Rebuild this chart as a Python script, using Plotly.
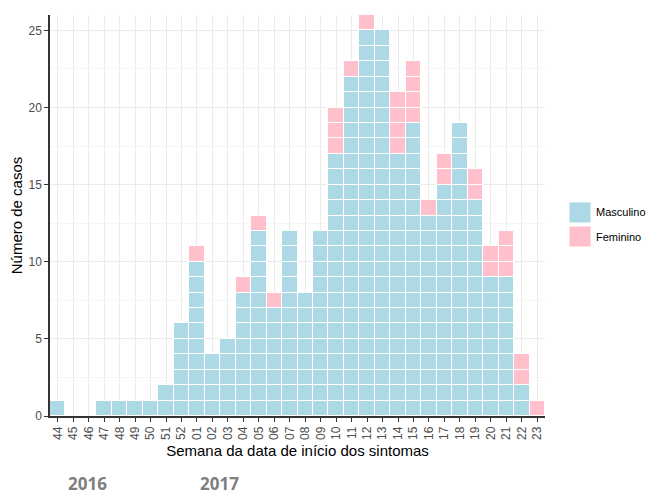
import plotly.graph_objects as go

weeks = ["44", "45", "46", "47", "48", "49", "50", "51", "52",
         "01", "02", "03", "04", "05", "06", "07", "08", "09", "10", "11",
         "12", "13", "14", "15", "16", "17", "18", "19", "20", "21", "22", "23"]
masculino = [1, 0, 0, 1, 1, 1, 1, 2, 6,
             10, 4, 5, 8, 12, 7, 12, 8, 12, 17, 22,
             25, 25, 17, 19, 13, 15, 19, 14, 9, 9, 2, 0]
feminino = [0, 0, 0, 0, 0, 0, 0, 0, 0,
            1, 0, 0, 1, 1, 1, 0, 0, 0, 3, 1,
            1, 0, 4, 4, 1, 2, 0, 2, 2, 3, 2, 1]
years = ["2016", "2017"]
year_pos = [1.94, 10.47]

series = [("Masculino", masculino, "#ADD8E6"), ("Feminino", feminino, "#FFC0CB")]

fig = go.Figure()
for name, counts, color in series:
    xs, ys = [], []
    for i, c in enumerate(counts):
        for _ in range(c):
            xs.append(i)
            ys.append(1)
    fig.add_trace(go.Bar(x=xs, y=ys, name=name, marker=dict(color=color, line=dict(color="white", width=1)),
                         showlegend=False))

fig.update_layout(
    barmode="stack", bargap=0,
    width=646, height=495,
    margin=dict(l=50, r=101, t=15, b=79),
    plot_bgcolor="white", paper_bgcolor="white",
    font=dict(family="Liberation Sans, Arial, sans-serif", size=12, color="#4D4D4D"),
)
fig.update_xaxes(
    range=[-0.5, len(weeks) - 0.5],
    tickmode="array", tickvals=list(range(len(weeks))), ticktext=weeks,
    tickangle=-90, ticks="outside", ticklen=4, tickcolor="#333333",
    showgrid=True, gridcolor="#EBEBEB", gridwidth=1,
    showline=True, linecolor="#333333", linewidth=1.5,
    zeroline=False,
    title=dict(text="Semana da data de início dos sintomas", font=dict(size=15, color="black"), standoff=7),
    tickfont=dict(size=12, color="#4D4D4D"),
)
fig.update_yaxes(
    range=[0, 26], dtick=5, tick0=0,
    ticks="outside", ticklen=4, tickcolor="#333333",
    showgrid=True, gridcolor="#EBEBEB", gridwidth=1,
    minor=dict(dtick=2.5, tick0=0, showgrid=True, gridcolor="#F5F5F5", gridwidth=1),
    showline=True, linecolor="#333333", linewidth=1.5,
    zeroline=False,
    title=dict(text="Número de casos", font=dict(size=15, color="black"), standoff=2),
    tickfont=dict(size=12, color="#4D4D4D"),
)

# custom legend keys
key_boxes = [(0.4813, 0.5337), (0.4214, 0.4738)]
for (name, counts, color), (y0, y1) in zip(series, key_boxes):
    fig.add_shape(type="rect", xref="paper", yref="paper",
                  x0=1.0485, x1=1.093, y0=y0, y1=y1,
                  fillcolor=color, line=dict(color="white", width=1))
    fig.add_annotation(xref="paper", yref="paper", x=1.098, y=(y0 + y1) / 2, text=name,
                       showarrow=False, xanchor="left", yanchor="middle",
                       font=dict(size=11, color="black"))

for yr, pos in zip(years, year_pos):
    fig.add_annotation(xref="x", yref="paper", x=pos, y=-0.168, text="<b>" + yr + "</b>",
                       showarrow=False, xanchor="center", yanchor="middle",
                       font=dict(family="Open Sans, sans-serif", size=17, color="#7F7F7F"))

fig.write_html("out.html", config={"displayModeBar": False},
               post_script="document.body.style.margin='0';document.body.style.overflow='hidden';")
